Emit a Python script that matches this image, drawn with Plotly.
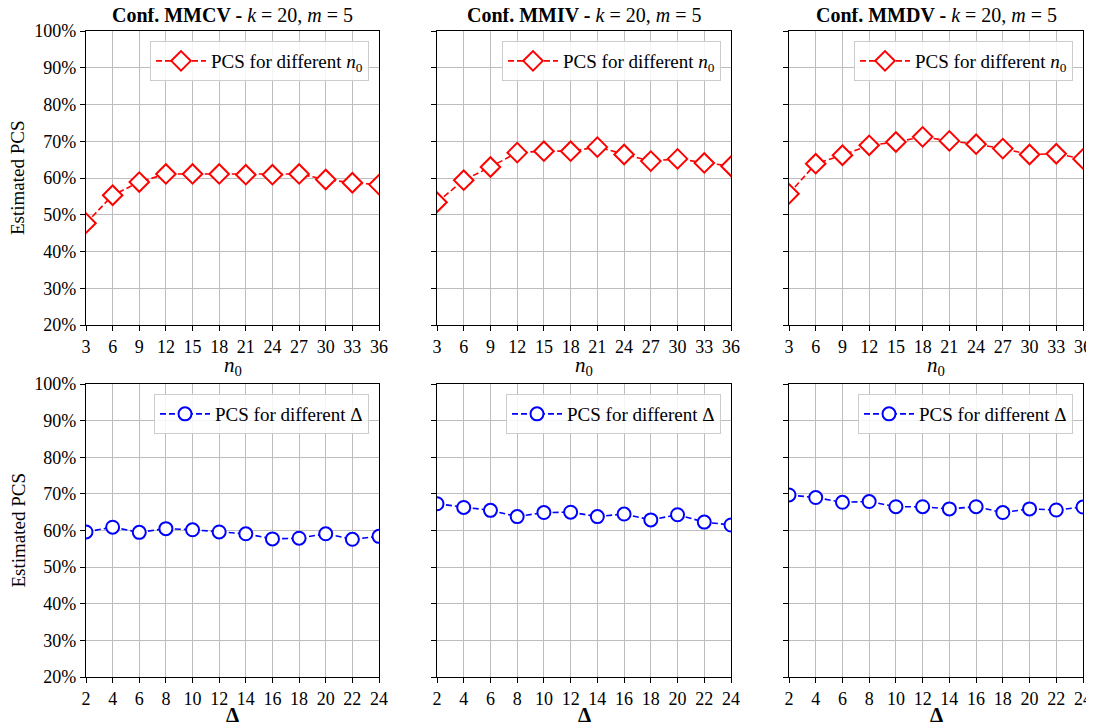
import plotly.graph_objects as go

# ---------------- data ----------------
config_names = ["MMCV", "MMIV", "MMDV"]
n0_values = [3, 6, 9, 12, 15, 18, 21, 24, 27, 30, 33, 36]
delta_values = [2, 4, 6, 8, 10, 12, 14, 16, 18, 20, 22, 24]

pcs_n0_mmcv = [47.7, 55.3, 58.9, 61.1, 61.1, 61.1, 60.9, 60.9, 61.1, 59.6, 58.7, 58.2]
pcs_n0_mmiv = [53.4, 59.4, 63.0, 66.9, 67.3, 67.3, 68.4, 66.4, 64.6, 65.2, 64.1, 63.2]
pcs_n0_mmdv = [55.7, 63.9, 66.2, 68.9, 69.8, 71.2, 70.1, 69.2, 68.0, 66.4, 66.6, 65.2]

pcs_delta_mmcv = [59.6, 60.9, 59.5, 60.5, 60.2, 59.6, 59.1, 57.7, 57.9, 59.1, 57.6, 58.4]
pcs_delta_mmiv = [67.3, 66.3, 65.5, 63.8, 64.9, 65.0, 63.8, 64.5, 62.9, 64.3, 62.3, 61.5]
pcs_delta_mmdv = [69.7, 69.0, 67.7, 67.9, 66.5, 66.5, 65.9, 66.5, 64.9, 65.9, 65.6, 66.4]

y_ticks = [20, 30, 40, 50, 60, 70, 80, 90, 100]
y_tick_labels = ["20%", "30%", "40%", "50%", "60%", "70%", "80%", "90%", "100%"]

top_series = [pcs_n0_mmcv, pcs_n0_mmiv, pcs_n0_mmdv]
bottom_series = [pcs_delta_mmcv, pcs_delta_mmiv, pcs_delta_mmdv]

# ---------------- layout geometry ----------------
# the page places the figure 8px in from the window's top-left corner
OFF = 8
W, H = 1094 - OFF, 725 - OFF
ML, MR, MT, MB = 86 - OFF, 11, 31 - OFF, 48
PW = W - ML - MR
PH = H - MT - MB
x_domains = [[0, 293 / PW], [351 / PW, 645 / PW], [703 / PW, 1.0]]
y_domains = [[352 / PH, 1.0], [0, 293 / PH]]

FONT = "Liberation Serif"

fig = go.Figure()
layout = dict(
    width=W, height=H,
    margin=dict(l=ML, r=MR, t=MT, b=MB),
    paper_bgcolor="white", plot_bgcolor="white",
    font=dict(family=FONT, size=18, color="black"),
    showlegend=True,
    annotations=[],
)

axis_common = dict(
    showline=True, linecolor="black", linewidth=1.2, mirror=True,
    ticks="outside", ticklen=5, tickwidth=1.2, tickcolor="black",
    showgrid=True, gridcolor="#bdbdbd", gridwidth=1.1,
    zeroline=False, tickfont=dict(family=FONT, size=18), automargin=False,
)

idx = 0
for row in range(2):
    for col in range(3):
        idx += 1
        xa = "x" if idx == 1 else f"x{idx}"
        ya = "y" if idx == 1 else f"y{idx}"
        lg = "legend" if idx == 1 else f"legend{idx}"
        if row == 0:
            xs = n0_values
            ys = top_series[col]
            name = "PCS for different <i>n</i><sub>0</sub>"
            color = "red"
            symbol = "diamond"
            msize = 15
            xrange = [3, 36]
            xtitle = "<i>n</i><sub>0</sub>"
            xt_shift = -41
        else:
            xs = delta_values
            ys = bottom_series[col]
            name = "PCS for different Δ"
            color = "blue"
            symbol = "circle"
            msize = 13
            xrange = [2, 24]
            xtitle = "<b>Δ</b>"
            xt_shift = -38
        fig.add_trace(go.Scatter(
            x=xs, y=ys, mode="lines+markers", name=name,
            xaxis=xa, yaxis=ya, legend=lg,
            line=dict(color=color, width=1.6, dash="6px,3px"),
            marker=dict(symbol=symbol, size=msize, color="white",
                        line=dict(color=color, width=2)),
        ))
        xkey = "xaxis" if idx == 1 else f"xaxis{idx}"
        ykey = "yaxis" if idx == 1 else f"yaxis{idx}"
        layout[xkey] = dict(
            axis_common, domain=x_domains[col], anchor=ya,
            range=xrange, tickmode="array", tickvals=xs,
            ticktext=[str(v) for v in xs],
        )
        layout[ykey] = dict(
            axis_common, domain=y_domains[row], anchor=xa,
            range=[20, 100], tickmode="array", tickvals=y_ticks,
            ticktext=y_tick_labels, showticklabels=(col == 0),
        )
        layout[lg] = dict(
            x=x_domains[col][1] - 10 / PW, y=y_domains[row][1] - 10 / PH,
            xanchor="right", yanchor="top", xref="paper", yref="paper",
            bgcolor="rgba(255,255,255,0.85)", bordercolor="#cccccc", borderwidth=1,
            font=dict(family=FONT, size=19), itemwidth=50,
        )
        cx = (x_domains[col][0] + x_domains[col][1]) / 2
        # x-axis title
        layout["annotations"].append(dict(
            text=xtitle, x=cx, y=y_domains[row][0], xref="paper", yref="paper",
            xanchor="center", yanchor="middle", yshift=xt_shift, showarrow=False,
            font=dict(family=FONT, size=21),
        ))
        if col == 0:
            layout["annotations"].append(dict(
                text="Estimated PCS", x=0, y=(y_domains[row][0] + y_domains[row][1]) / 2,
                xref="paper", yref="paper", xanchor="center", yanchor="middle",
                xshift=-68, textangle=-90, showarrow=False,
                font=dict(family=FONT, size=19),
            ))
        if row == 0:
            layout["annotations"].append(dict(
                text=f"<b>Conf. {config_names[col]} - </b><i>k</i> = 20, <i>m</i> = 5",
                x=cx, y=1.0, xref="paper", yref="paper", xanchor="center", yanchor="bottom",
                yshift=3, showarrow=False, font=dict(family=FONT, size=20),
            ))

fig.update_layout(**layout)
fig.write_html("out.html")
